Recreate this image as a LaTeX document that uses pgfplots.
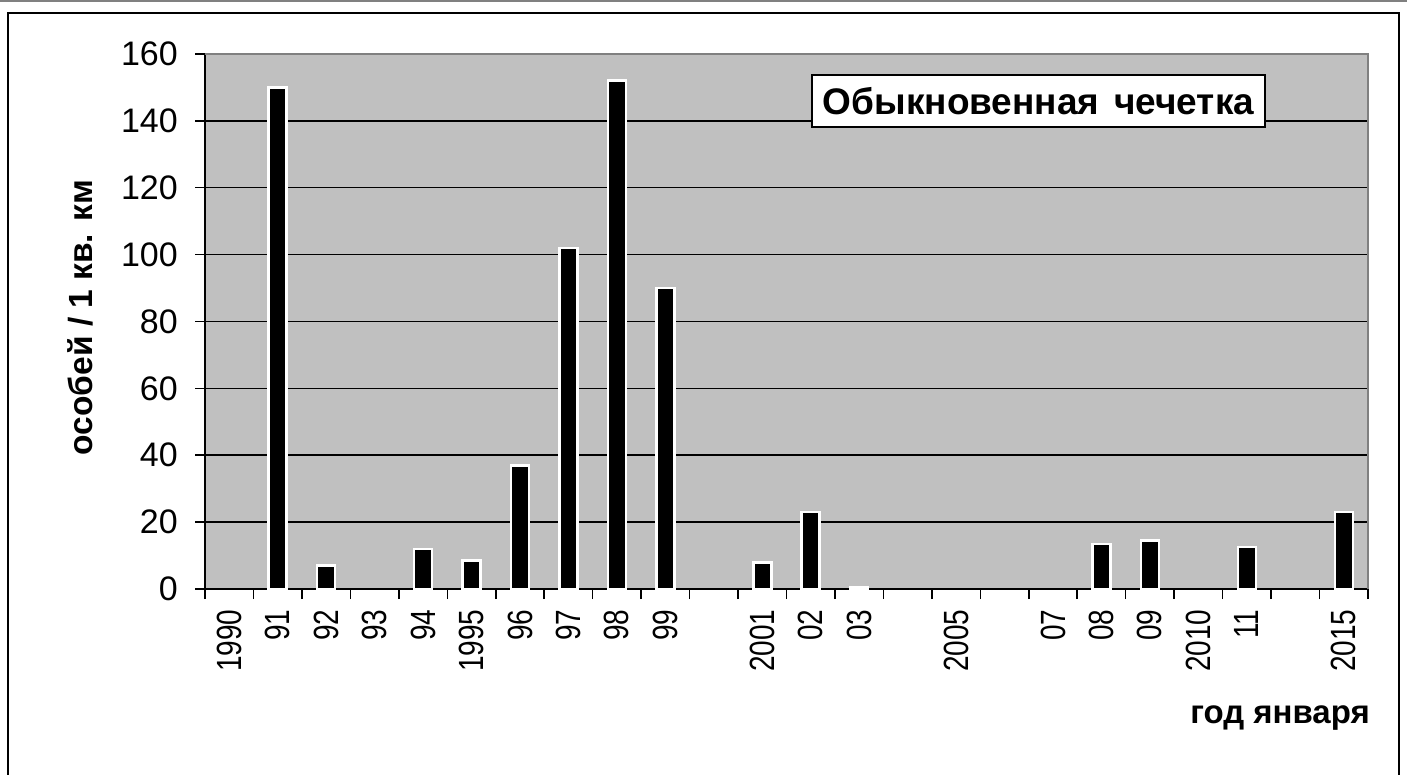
\documentclass[border=0pt]{standalone}
\usepackage{pgfplots}
\pgfplotsset{compat=1.18}
\usepackage{fontspec}
\setmainfont{Liberation Sans}
\definecolor{bg}{RGB}{192,192,192}
\definecolor{brd}{RGB}{128,128,128}
\begin{document}
\begin{tikzpicture}[x=1pt,y=1pt]
\path[use as bounding box] (0,0) rectangle (1407,774);
\draw[brd, line width=2pt] (0,773) -- (1407,773);
\draw[black, line width=2pt] (7.5,-5) -- (7.5,761) -- (1399,761) -- (1399,-5);
\begin{axis}[
  at={(205pt,185pt)}, anchor=south west,
  width=1163pt, height=535pt, scale only axis,
  xmin=-0.5, xmax=23.5, ymin=0, ymax=160,
  ytick={0,20,...,160},
  xtick={0,...,23},
  xticklabels={1990,91,92,93,94,1995,96,97,98,99,,2001,02,03,,2005,,07,08,09,2010,11,,2015},
  minor xtick={-0.5,0.5,...,23.5},
  tick align=outside,
  major tick length=10pt, minor tick length=10pt,
  major x tick style={draw=none},
  minor x tick style={black, line width=1.5pt},
  ytick style={black, line width=1.5pt},
  ymajorgrids, grid style={black, line width=1.5pt},
  axis x line*=bottom, axis y line*=left,
  axis line style={black, line width=2pt, -},
  axis background/.style={fill=bg},
  /pgf/number format/assume math mode=true,
  yticklabel style={font=\fontsize{34}{34}\selectfont, anchor=east, inner sep=0pt, xshift=-17pt},
  xticklabel style={font=\fontsize{35}{35}\selectfont, rotate=90, xscale=0.8, anchor=east, inner sep=0pt, xshift=-13pt},
  ybar, bar width=18pt,
  clip=false,
]
\addplot[fill=black, draw=white, line width=2.5pt] coordinates {
  (1,150) (2,7) (4,12) (5,8.5) (6,37) (7,102) (8,152) (9,90)
  (11,8) (12,23) (13,0.5) (18,13.5) (19,14.5) (21,12.5) (23,23)
};
\draw[brd, line width=2pt] (rel axis cs:0,1) -- (rel axis cs:1,1) -- (rel axis cs:1,0);
\end{axis}
\node[rotate=90, font=\bfseries\fontsize{33.5}{33.5}\selectfont] at (80,456.5) {особей / 1 кв. км};
\node[font=\bfseries\fontsize{33}{33}\selectfont] at (1280,56) {год января};
\node[draw=black, line width=1.5pt, fill=white, minimum width=453pt, minimum height=52pt, inner sep=0pt,
      font=\bfseries\fontsize{37}{37}\selectfont] at (1038.5,673) {Обыкновенная\hspace{0.4em}чечетка};
\end{tikzpicture}
\end{document}
